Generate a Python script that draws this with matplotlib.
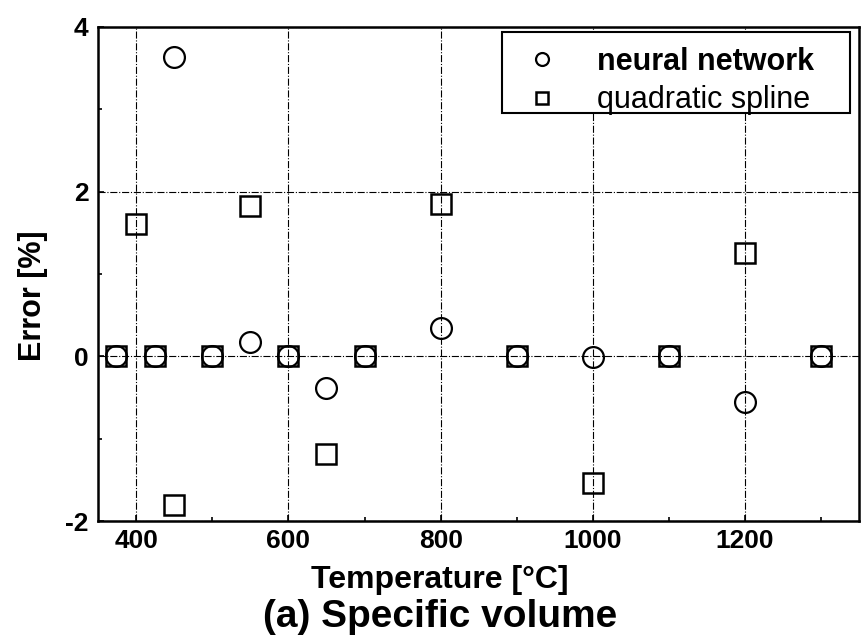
import matplotlib.pyplot as plt
import numpy as np
from matplotlib.ticker import MultipleLocator
from matplotlib.patches import Rectangle

plt.rcParams.update({
    'font.family': 'Liberation Sans',
    'font.weight': 'bold',
    'font.size': 19,
    'axes.linewidth': 1.8,
    'axes.unicode_minus': False,
    'xtick.direction': 'in',
    'ytick.direction': 'in',
    'xtick.major.size': 4,
    'ytick.major.size': 4,
    'xtick.minor.size': 3,
    'ytick.minor.size': 3,
})

# neural network errors
nn_temp = [374, 425, 450, 500, 550, 600, 650, 700, 800, 900, 1000, 1100, 1200, 1300]
nn_err = [0, 0, 3.63, 0, 0.17, 0, -0.38, 0, 0.34, 0, -0.01, 0, -0.55, 0]

# quadratic spline errors
qs_temp = [374, 400, 425, 450, 500, 550, 600, 650, 700, 800, 900, 1000, 1100, 1200, 1300]
qs_err = [0, 1.61, 0, -1.81, 0, 1.83, 0, -1.18, 0, 1.85, 0, -1.54, 0, 1.25, 0]

fig = plt.figure(figsize=(8.61, 6.41), dpi=100)
ax = fig.add_axes([0.114, 0.187, 0.884, 0.771])

ax.plot(nn_temp, nn_err, 'o', ms=15, mfc='none', mec='black', mew=1.6,
        label='neural network')
ax.plot(qs_temp, qs_err, 's', ms=14, mfc='none', mec='black', mew=1.8,
        label='quadratic spline')

ax.set_xlim(350, 1350)
ax.set_ylim(-2, 4)
ax.xaxis.set_major_locator(MultipleLocator(200))
ax.xaxis.set_minor_locator(MultipleLocator(100))
ax.yaxis.set_major_locator(MultipleLocator(2))
ax.yaxis.set_minor_locator(MultipleLocator(1))
ax.tick_params(which='both', top=False, right=False, width=1.2)
ax.tick_params(axis='y', pad=7)
ax.tick_params(axis='x', pad=6)

ax.grid(True, which='major', color='black', linestyle='-.', linewidth=0.8)

ax.set_xlabel('Temperature [°C]', fontweight='bold', fontsize=23)
ax.xaxis.set_label_coords(0.449, -0.089)
ax.set_ylabel('Error [%]', fontweight='bold', fontsize=22)
ax.yaxis.set_label_coords(-0.066, 0.457)
fig.text(0.511, 0.037, '(a) Specific volume', ha='center', va='center',
         fontsize=28, fontweight='bold')

# legend box (wider than the entries, as in the original)
box = Rectangle((0.531, 0.826), 0.457, 0.164, transform=ax.transAxes,
                facecolor='white', edgecolor='black', linewidth=1.5, zorder=4)
ax.add_patch(box)
leg = ax.legend(loc='upper left', bbox_to_anchor=(0.531, 0.99), frameon=False,
                borderaxespad=0, borderpad=0.5, handletextpad=1.0,
                handlelength=1.6, markerscale=0.62, labelspacing=0.27,
                prop={'size': 22})
leg.set_zorder(5)
leg.get_texts()[0].set_fontweight('bold')
leg.get_texts()[1].set_fontweight('normal')

fig.savefig('out.png', dpi=100)
